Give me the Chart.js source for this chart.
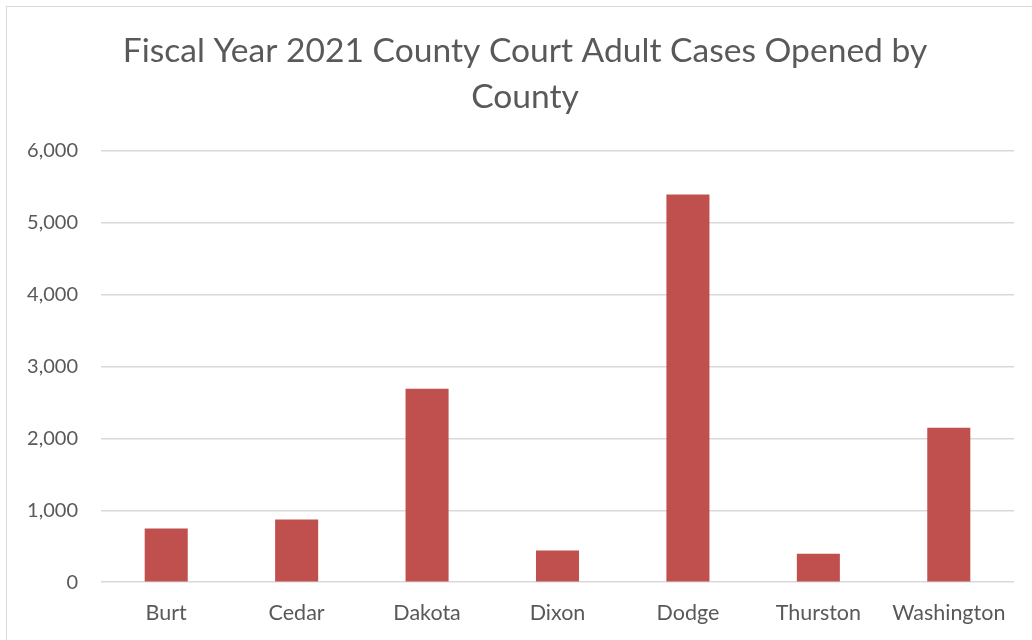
<!DOCTYPE html>
<html>
<head>
<meta charset="utf-8">
<script src="https://cdn.jsdelivr.net/npm/chart.js@4"></script>
<style>
  html, body { margin: 0; padding: 0; background: #fff; overflow: hidden; }
  #frame { position: absolute; left: 6px; top: 6px; width: 1100px; height: 700px;
           border-left: 1px solid #d9d9d9; border-top: 1px solid #d9d9d9; }
  #wrap { position: absolute; left: 0; top: 0; width: 1050px; height: 640px; }
</style>
</head>
<body>
<div id="frame"></div>
<div id="wrap"><canvas id="courtChart"></canvas></div>
<script>
// Données du graphique
const titleLines = ['Fiscal Year 2021 County Court Adult Cases Opened by', 'County'];
const counties = ['Burt', 'Cedar', 'Dakota', 'Dixon', 'Dodge', 'Thurston', 'Washington'];
const casesOpened = [745, 870, 2688, 442, 5389, 396, 2148];
const yTicks = [0, 1000, 2000, 3000, 4000, 5000, 6000];

const textColor = '#595959';
const gridColor = '#d9d9d9';

// Recentrer le titre sur la largeur du cadre (comme dans Excel)
const shiftTitle = {
    id: 'shiftTitle',
    afterLayout(chart) {
        if (chart.titleBlock) chart.titleBlock.left += 22;
    }
};

const ctx = document.getElementById('courtChart').getContext('2d');
new Chart(ctx, {
    type: 'bar',
    data: {
        labels: counties,
        datasets: [{
            label: 'Cases opened',
            data: casesOpened,
            backgroundColor: '#c0504d',
            categoryPercentage: 1,
            barPercentage: 0.33
        }]
    },
    options: {
        responsive: true,
        maintainAspectRatio: false,
        animation: false,
        layout: { padding: { left: 14, right: 36, top: 0, bottom: 4 } },
        plugins: {
            legend: { display: false },
            tooltip: { enabled: false },
            title: {
                display: true,
                text: titleLines,
                color: textColor,
                font: { family: 'Lato', size: 33.6, weight: 'normal', lineHeight: 1.37 },
                padding: { top: 28.5, bottom: 30 }
            }
        },
        scales: {
            x: {
                grid: { display: false },
                border: { display: false },
                ticks: {
                    color: textColor,
                    font: { family: 'Lato', size: 21.5 },
                    padding: 10
                }
            },
            y: {
                min: yTicks[0],
                max: yTicks[yTicks.length - 1],
                afterBuildTicks: axis => { axis.ticks = yTicks.map(v => ({ value: v })); },
                afterFit: axis => { axis.width = 87; },
                grid: { color: gridColor, lineWidth: 1.5, drawTicks: false },
                border: { display: false },
                ticks: {
                    color: textColor,
                    font: { family: 'Lato', size: 20 },
                    padding: 23,
                    callback: v => v.toLocaleString('en-US')
                }
            }
        }
    },
    plugins: [shiftTitle]
});
</script>
</body>
</html>
